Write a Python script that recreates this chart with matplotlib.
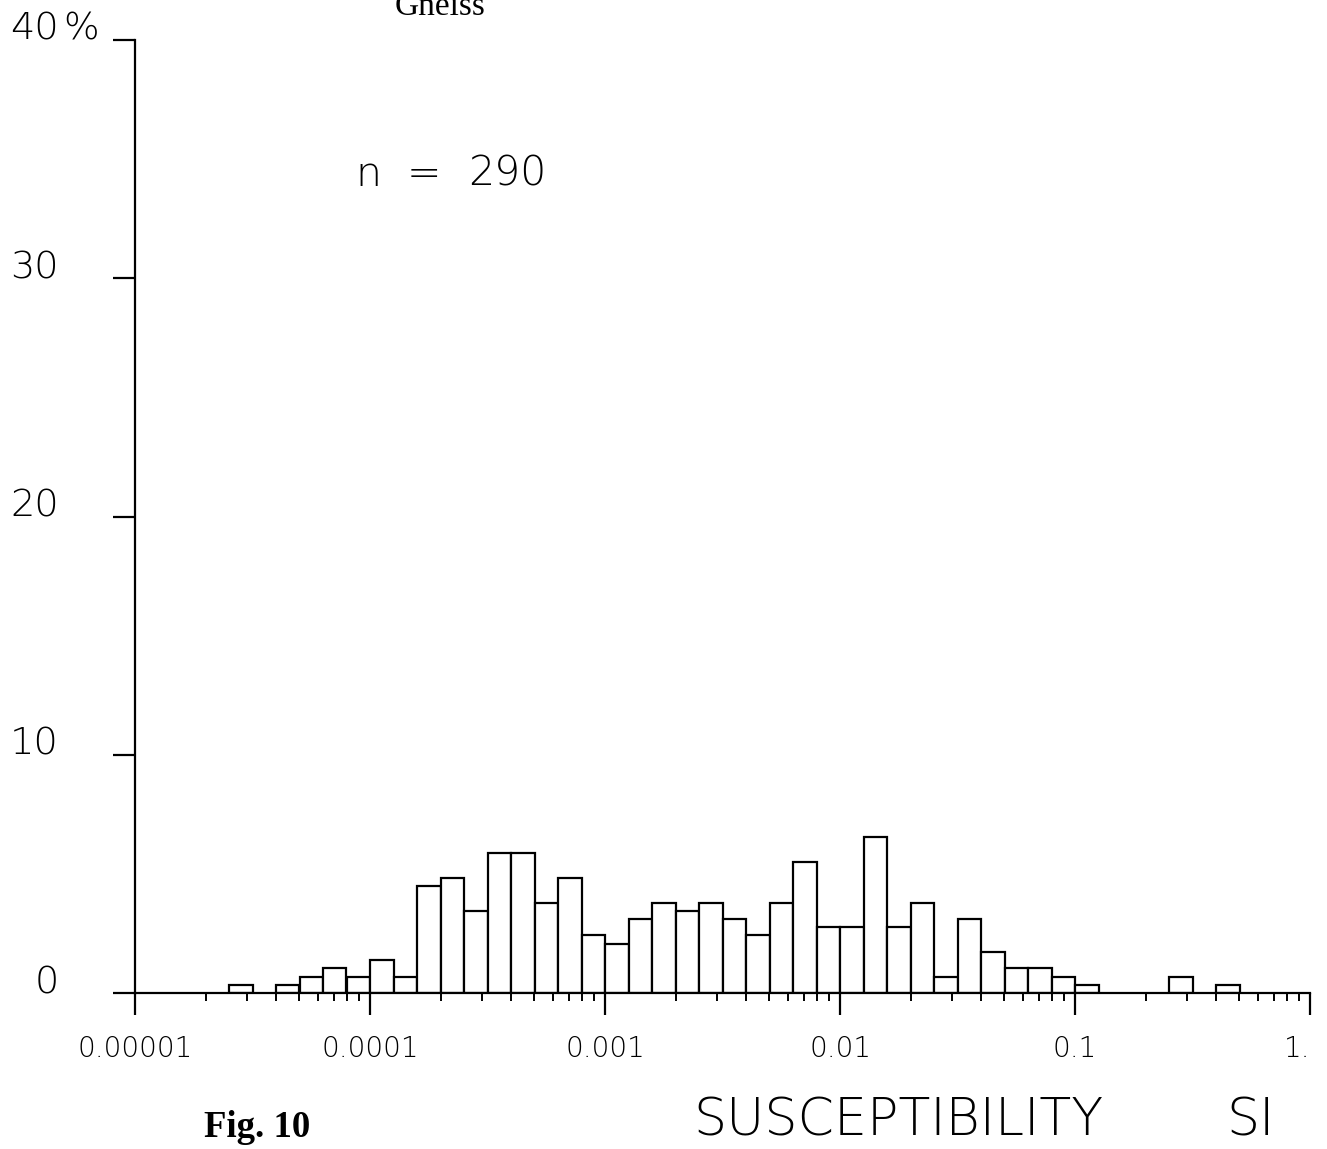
import matplotlib
matplotlib.use("Agg")
import matplotlib.pyplot as plt
from matplotlib.ticker import FixedLocator, LogLocator, NullFormatter
import matplotlib.transforms as mtransforms

# ---- data ----
n_samples = 290
bin_lo_exp = [-4.6, -4.4, -4.3, -4.2, -4.1, -4.0, -3.9, -3.8, -3.7, -3.6,
              -3.5, -3.4, -3.3, -3.2, -3.1, -3.0, -2.9, -2.8, -2.7, -2.6,
              -2.5, -2.4, -2.3, -2.2, -2.1, -2.0, -1.9, -1.8, -1.7, -1.6,
              -1.5, -1.4, -1.3, -1.2, -1.1, -1.0, -0.6, -0.4]
counts = [1, 1, 2, 3, 2, 4, 2, 13, 14, 10,
          17, 17, 11, 14, 7, 6, 9, 11, 10, 11,
          9, 7, 11, 16, 8, 8, 19, 8, 11, 2,
          9, 5, 3, 3, 2, 1, 2, 1]
bin_width_exp = 0.1
x_ticks = [1e-5, 1e-4, 1e-3, 1e-2, 1e-1, 1.0]
x_tick_labels = ["0.00001", "0.0001", "0.001", "0.01", "0.1", "1."]
y_ticks = [0, 10, 20, 30, 40]
y_tick_labels = ["0", "10", "20", "30", "40"]

W, H = 1327, 1149
fig = plt.figure(figsize=(W / 100, H / 100), dpi=100)
fig.patch.set_facecolor("white")

ax_l, ax_r, ax_b, ax_t = 135, 1310, 993, 40
ax = fig.add_axes([ax_l / W, 1 - ax_b / H, (ax_r - ax_l) / W, (ax_b - ax_t) / H])

sans = ["DejaVu Sans"]
lw = "light"

lefts = [10 ** e for e in bin_lo_exp]
widths = [10 ** (e + bin_width_exp) - 10 ** e for e in bin_lo_exp]
perc = [c / n_samples * 100 for c in counts]
ax.bar(lefts, perc, width=widths, align="edge", facecolor="white",
       edgecolor="black", linewidth=1.6, zorder=2)

ax.set_xscale("log")
ax.set_xlim(1e-5, 1.0)
ax.set_ylim(0, 40)

for s in ["top", "right"]:
    ax.spines[s].set_visible(False)
for s in ["left", "bottom"]:
    ax.spines[s].set_linewidth(1.6)
    ax.spines[s].set_zorder(3)

ax.xaxis.set_major_locator(FixedLocator(x_ticks))
ax.xaxis.set_minor_locator(LogLocator(base=10, subs=[2, 3, 4, 5, 6, 7, 8, 9], numticks=20))
ax.xaxis.set_minor_formatter(NullFormatter())
ax.set_xticklabels(x_tick_labels, fontsize=20, family=sans, fontweight=lw)
ax.tick_params(axis="x", which="major", direction="out", length=16, width=1.6, pad=14)
ax.tick_params(axis="x", which="minor", direction="out", length=5.5, width=1.4)
# keep the last label ("1.") inside the figure
xlabs = ax.get_xticklabels()
xlabs[-1].set_ha("right")
xlabs[-1].set_x(1.0)

ax.yaxis.set_major_locator(FixedLocator(y_ticks))
ax.set_yticklabels([])
ax.tick_params(axis="y", which="major", direction="out", length=16, width=1.6)

ytr = mtransforms.blended_transform_factory(fig.transFigure, ax.transData)
for v, lab in zip(y_ticks, y_tick_labels):
    fig.text(59 / W, v, lab, transform=ytr, ha="right", va="baseline",
             fontsize=27.5, family=sans, fontweight=lw)
fig.text(63 / W, 40, "%", transform=ytr, ha="left", va="baseline",
         fontsize=27, family=sans, fontweight=lw)

def fx(x):
    return x / W

def fy(y):
    return 1 - y / H

fig.text(fx(355), fy(186), "n", ha="left", va="baseline", fontsize=29.5, family=sans, fontweight=lw)
fig.text(fx(407), fy(186), "=", ha="left", va="baseline", fontsize=29.5, family=sans, fontweight=lw)
fig.text(fx(468), fy(186), str(n_samples), ha="left", va="baseline", fontsize=29.5,
         family=sans, fontweight=lw)

fig.text(fx(395), fy(15), "Gneiss", ha="left", va="baseline", fontsize=24,
         family=["Liberation Serif", "DejaVu Serif"])

fig.text(fx(693), fy(1136), "SUSCEPTIBILITY", ha="left", va="baseline",
         fontsize=37.5, family=sans, fontweight=lw)
fig.text(fx(1226), fy(1136), "SI", ha="left", va="baseline",
         fontsize=37.5, family=sans, fontweight=lw)

fig.text(fx(204), fy(1137), "Fig. 10", ha="left", va="baseline", fontsize=26.5,
         fontweight="bold", family=["Liberation Serif", "DejaVu Serif"])

fig.savefig("out.png", dpi=100, facecolor="white")
